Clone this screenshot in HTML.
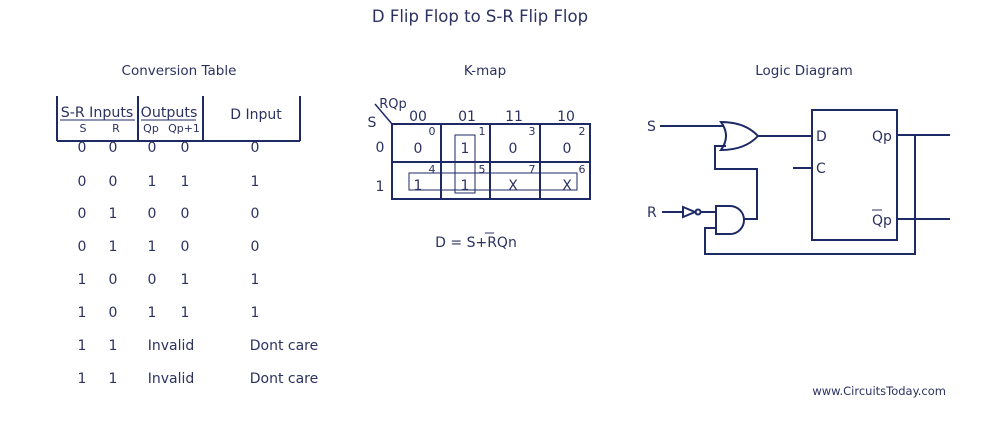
<!DOCTYPE html>
<html><head><meta charset="utf-8"><style>
html,body{margin:0;padding:0;background:#fff;}
svg{display:block;}
text{font-family:"DejaVu Sans","Liberation Sans",sans-serif;fill:#2b3260;}
</style></head><body>
<svg width="990" height="432" viewBox="0 0 990 432" xmlns="http://www.w3.org/2000/svg">
<g>
<text x="480" y="22" text-anchor="middle" font-size="16.5">D Flip Flop to S-R Flip Flop</text>
<text x="179" y="75" text-anchor="middle" font-size="13.5">Conversion Table</text>
<text x="485" y="75" text-anchor="middle" font-size="13.5">K-map</text>
<text x="804" y="75" text-anchor="middle" font-size="13.5">Logic Diagram</text>
</g>
<!-- Table -->
<g stroke="#1e2a66" stroke-width="2" fill="none">
<line x1="57" y1="96" x2="57" y2="141"/>
<line x1="138" y1="96" x2="138" y2="141"/>
<line x1="203" y1="96" x2="203" y2="141"/>
<line x1="300" y1="96" x2="300" y2="141"/>
<line x1="57" y1="141" x2="300" y2="141"/>
<line x1="60" y1="120" x2="135" y2="120" stroke-width="1"/>
<line x1="141" y1="120" x2="196" y2="120" stroke-width="1"/>
</g>
<g>
<text x="97" y="117" text-anchor="middle" font-size="14.2">S-R Inputs</text>
<text x="169" y="117" text-anchor="middle" font-size="14.2">Outputs</text>
<text x="256" y="119" text-anchor="middle" font-size="14">D Input</text>
<text x="83" y="132" text-anchor="middle" font-size="11">S</text>
<text x="116" y="132" text-anchor="middle" font-size="11">R</text>
<text x="151" y="132" text-anchor="middle" font-size="11">Qp</text>
<text x="184" y="132" text-anchor="middle" font-size="11">Qp+1</text>
</g>
<g font-size="14" text-anchor="middle">
<text x="82" y="152">0</text><text x="113" y="152">0</text><text x="152" y="152">0</text><text x="185" y="152">0</text><text x="255" y="152">0</text>
<text x="82" y="186">0</text><text x="113" y="186">0</text><text x="152" y="186">1</text><text x="185" y="186">1</text><text x="255" y="186">1</text>
<text x="82" y="218">0</text><text x="113" y="218">1</text><text x="152" y="218">0</text><text x="185" y="218">0</text><text x="255" y="218">0</text>
<text x="82" y="251">0</text><text x="113" y="251">1</text><text x="152" y="251">1</text><text x="185" y="251">0</text><text x="255" y="251">0</text>
<text x="82" y="284">1</text><text x="113" y="284">0</text><text x="152" y="284">0</text><text x="185" y="284">1</text><text x="255" y="284">1</text>
<text x="82" y="317">1</text><text x="113" y="317">0</text><text x="152" y="317">1</text><text x="185" y="317">1</text><text x="255" y="317">1</text>
<text x="82" y="350">1</text><text x="113" y="350">1</text><text x="171" y="350">Invalid</text><text x="284" y="350">Dont care</text>
<text x="82" y="383">1</text><text x="113" y="383">1</text><text x="171" y="383">Invalid</text><text x="284" y="383">Dont care</text>
</g>
<!-- K-map -->
<g stroke="#1e2a66" fill="none">
<rect x="392" y="124" width="198" height="75" stroke-width="2"/>
<line x1="441" y1="124" x2="441" y2="199" stroke-width="2"/>
<line x1="490" y1="124" x2="490" y2="199" stroke-width="2"/>
<line x1="540" y1="124" x2="540" y2="199" stroke-width="2"/>
<line x1="392" y1="162" x2="590" y2="162" stroke-width="2"/>
<line x1="375" y1="104" x2="392" y2="124" stroke-width="1.5"/>
<rect x="409" y="173" width="168" height="17" stroke-width="1"/>
<rect x="455" y="135" width="20" height="58" stroke-width="1"/>
</g>
<g font-size="14" text-anchor="middle">
<text x="393" y="108" font-size="13">RQp</text>
<text x="372" y="127">S</text>
<text x="418" y="121">00</text><text x="467" y="121">01</text><text x="514" y="121">11</text><text x="566" y="121">10</text>
<text x="380" y="152">0</text><text x="380" y="191">1</text>
<text x="418" y="153">0</text><text x="465" y="153">1</text><text x="513" y="153">0</text><text x="567" y="153">0</text>
<text x="418" y="190">1</text><text x="465" y="190">1</text><text x="513" y="190">X</text><text x="567" y="190">X</text>
</g>
<g font-size="11" text-anchor="middle">
<text x="432" y="135">0</text><text x="482" y="135">1</text><text x="532" y="135">3</text><text x="582" y="135">2</text>
<text x="432" y="173">4</text><text x="482" y="173">5</text><text x="532" y="173">7</text><text x="582" y="173">6</text>
</g>
<text x="476" y="247" text-anchor="middle" font-size="14">D = S+RQn</text>
<line x1="485" y1="233" x2="494" y2="233" stroke="#2b3260" stroke-width="1"/>
<!-- Logic diagram -->
<g stroke="#1e2a66" stroke-width="2" fill="none">
<line x1="660" y1="126" x2="724" y2="126"/>
<path d="M721,122 Q731,136 721,150 Q745,150 758,136 Q745,122 721,122 Z"/>
<line x1="758" y1="136" x2="812" y2="136"/>
<rect x="812" y="110" width="85" height="130"/>
<line x1="793" y1="168" x2="812" y2="168"/>
<line x1="897" y1="135" x2="950" y2="135"/>
<line x1="897" y1="219" x2="950" y2="219"/>
<polyline points="915,135 915,254 705,254 705,228 716,228"/>
<polyline points="726,146 715,146 715,169 757,169 757,219 744,219"/>
<path d="M716,206 L730,206 A14,14 0 0 1 730,234 L716,234 Z"/>
<line x1="662" y1="212" x2="683" y2="212"/>
<path d="M683,207 L695,212 L683,217 Z"/>
<circle cx="698" cy="212" r="2.5"/>
<line x1="701" y1="212" x2="716" y2="212"/>
</g>
<g font-size="14">
<text x="647" y="131">S</text>
<text x="647" y="217">R</text>
<text x="816" y="141">D</text>
<text x="816" y="173">C</text>
<text x="872" y="141">Qp</text>
<text x="872" y="225">Qp</text>
</g>
<line x1="872" y1="210" x2="882" y2="210" stroke="#2b3260" stroke-width="1"/>
<text x="946" y="395" text-anchor="end" font-size="11.5">www.CircuitsToday.com</text>
</svg>
</body></html>
